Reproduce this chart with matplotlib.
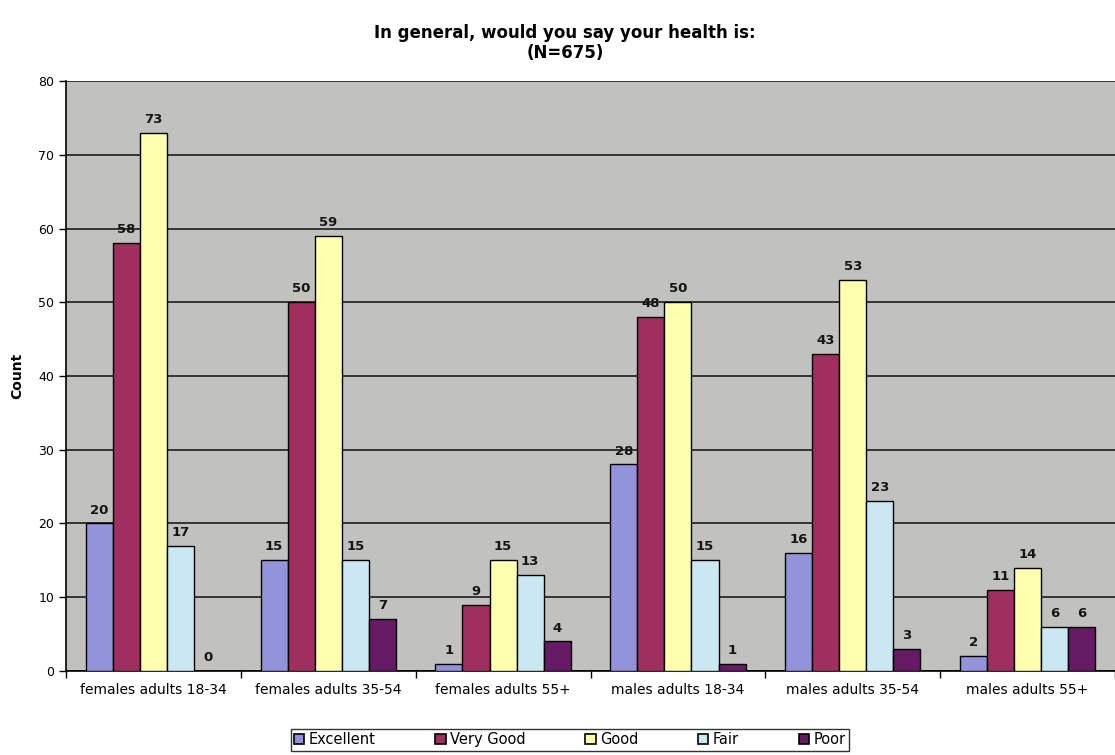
import matplotlib
matplotlib.use("Agg")
import matplotlib.pyplot as plt
import numpy as np
from matplotlib.patches import Patch

plt.rcParams['font.family'] = ['DejaVu Sans']

# Survey response counts per demographic group
groups = ["females adults 18-34", "females adults 35-54", "females adults 55+",
          "males adults 18-34", "males adults 35-54", "males adults 55+"]
ratings = ["Excellent", "Very Good", "Good", "Fair", "Poor"]
excellent = [20, 15, 1, 28, 16, 2]
very_good = [58, 50, 9, 48, 43, 11]
good = [73, 59, 15, 50, 53, 14]
fair = [17, 15, 13, 15, 23, 6]
poor = [0, 7, 4, 1, 3, 6]
y_ticks = [0, 10, 20, 30, 40, 50, 60, 70, 80]

series = [excellent, very_good, good, fair, poor]
colors = ["#9393dc", "#9e2f5e", "#ffffb0", "#cbe8f2", "#661a63"]

fig = plt.figure(figsize=(11.15, 7.55), dpi=100)
fig.patch.set_facecolor("white")
ax = fig.add_axes([0.0592, 0.1113, 0.9408, 0.7814])
ax.set_facecolor("#c1c2be")

x = np.arange(len(groups))
width = 0.155
offsets = (np.arange(len(series)) - 2) * width

for vals, col, off, name in zip(series, colors, offsets, ratings):
    bars = ax.bar(x + off, vals, width=width, color=col, edgecolor="black",
                  linewidth=1.0, label=name, zorder=3)
    for b, v in zip(bars, vals):
        ax.annotate(str(v), (b.get_x() + b.get_width() / 2, v),
                    xytext=(0, 5), textcoords="offset points",
                    ha="center", va="bottom", fontsize=9.5, fontweight="bold",
                    color="#151515", zorder=4)

ax.set_xlim(-0.5, len(groups) - 0.5)
ax.set_ylim(0, 80)
ax.set_yticks(y_ticks)
ax.tick_params(axis="y", labelsize=9, length=5, direction="out", width=1)
ax.set_xticks(x)
ax.set_xticklabels(groups, fontsize=10)
ax.tick_params(axis="x", which="major", length=0, pad=9)
ax.set_xticks(np.arange(-0.5, len(groups) + 0.5, 1.0), minor=True)
ax.tick_params(axis="x", which="minor", length=5, direction="out", width=1)

ax.yaxis.grid(True, color="#2a2a2a", linewidth=1.3, zorder=1)
ax.set_axisbelow(True)
for side in ("top", "right"):
    ax.spines[side].set_visible(False)
ax.spines["left"].set_linewidth(1.2)
ax.spines["bottom"].set_linewidth(1.2)

ax.set_ylabel("Count", fontsize=10, fontweight="bold", labelpad=10)

fig.suptitle("In general, would you say your health is:\n(N=675)",
             x=0.507, y=0.968, fontsize=12, fontweight="bold",
             linespacing=1.1)

handles = [Patch(facecolor=c, edgecolor="black", linewidth=1.2) for c in colors]
leg = fig.legend(handles, ratings, loc="center", bbox_to_anchor=(0.511, 0.02),
                 ncol=5, fontsize=10.5, frameon=True, fancybox=False,
                 handlelength=0.7, handleheight=0.7, handletextpad=0.3,
                 columnspacing=4.1, borderpad=0.25)
leg.get_frame().set_edgecolor("black")
leg.get_frame().set_linewidth(1.0)

fig.savefig("out.png", dpi=100)
